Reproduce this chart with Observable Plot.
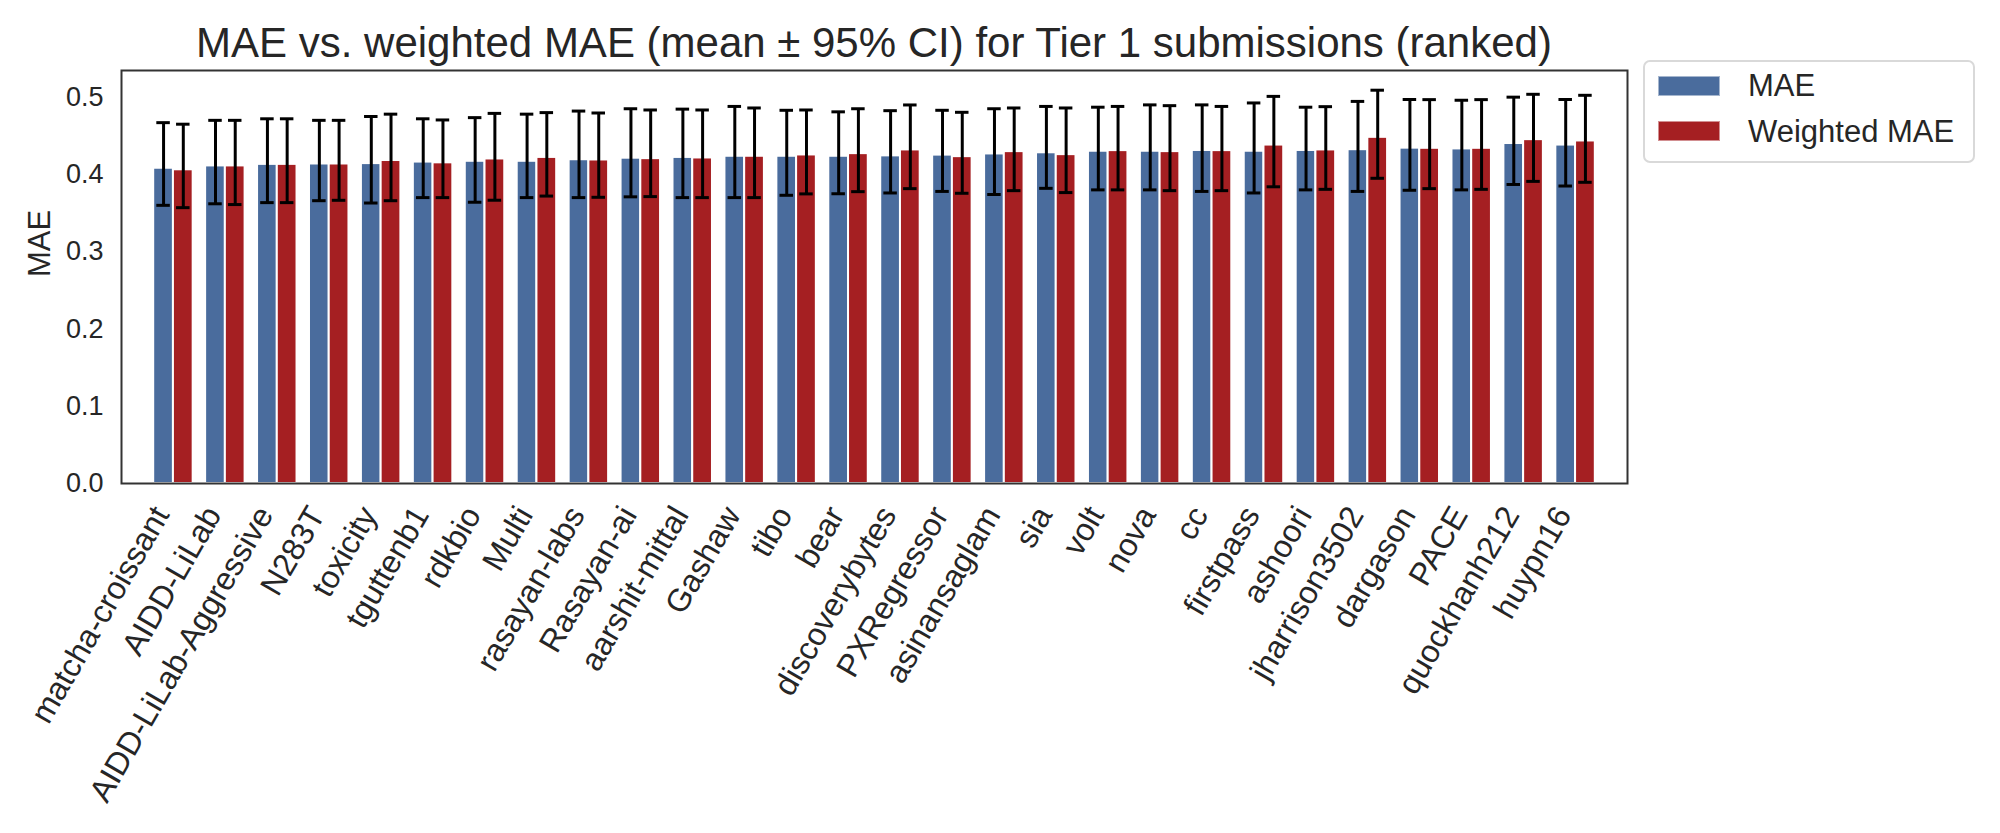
<!DOCTYPE html>
<html>
<head>
<meta charset="utf-8">
<script src="https://cdn.jsdelivr.net/npm/d3@7"></script>
<script src="https://cdn.jsdelivr.net/npm/@observablehq/plot@0.6"></script>
<style>
  html, body { margin: 0; padding: 0; background: #fff; }
  #wrap { position: relative; width: 2000px; height: 833px; overflow: hidden; font-family: "Liberation Sans", Arial, sans-serif; color: #262626; }
  #title { position: absolute; left: 121px; top: 22px; width: 1506px; text-align: center; font-size: 42px; line-height: 42px; white-space: nowrap; }
  #chart { position: absolute; left: 0; top: 60px; }
  #legend { position: absolute; left: 1643px; top: 60px; width: 332px; height: 103px; box-sizing: border-box; border: 2px solid #d9d9d9; border-radius: 7px; background: #fff; }
  .sw { position: absolute; left: 13px; width: 62px; height: 20px; box-sizing: border-box; border: 1px solid rgba(255,255,255,0.5); }
  .lt { position: absolute; left: 103px; font-size: 31px; line-height: 31px; white-space: nowrap; }
</style>
</head>
<body>
<div id="wrap">
  <div id="title">MAE vs. weighted MAE (mean ± 95% CI) for Tier 1 submissions (ranked)</div>
  <div id="chart"></div>
  <div id="legend"></div>
</div>
<script>
const names = ["matcha-croissant","AIDD-LiLab","AIDD-LiLab-Aggressive","N283T","toxicity","tguttenb1","rdkbio","Multi","rasayan-labs","Rasayan-ai","aarshit-mittal","Gashaw","tibo","bear","discoverybytes","PXRegressor","asinansaglam","sia","volt","nova","cc","firstpass","ashoori","jharrison3502","dargason","PACE","quockhanh212","huypn16"];

const mae   = [0.408,0.411,0.413,0.4135,0.414,0.416,0.417,0.417,0.419,0.421,0.422,0.4235,0.4235,0.4235,0.424,0.425,0.4265,0.428,0.430,0.430,0.431,0.430,0.431,0.432,0.434,0.433,0.440,0.438];
const maeLo = [0.360,0.362,0.3635,0.366,0.363,0.370,0.364,0.370,0.370,0.371,0.370,0.370,0.373,0.375,0.376,0.378,0.374,0.382,0.380,0.380,0.378,0.376,0.380,0.378,0.3795,0.380,0.387,0.385];
const maeHi = [0.467,0.470,0.472,0.470,0.475,0.472,0.4735,0.478,0.482,0.485,0.4845,0.488,0.483,0.481,0.4825,0.483,0.485,0.488,0.487,0.490,0.490,0.4925,0.487,0.4945,0.497,0.496,0.500,0.497];

const wmae   = [0.406,0.411,0.413,0.4135,0.418,0.415,0.420,0.422,0.4187,0.4204,0.4213,0.4235,0.4252,0.4269,0.4317,0.423,0.4295,0.4256,0.4308,0.4295,0.4308,0.438,0.4317,0.448,0.4338,0.4338,0.445,0.4433];
const wmaeLo = [0.357,0.361,0.3635,0.3665,0.366,0.370,0.3666,0.372,0.3704,0.3713,0.370,0.370,0.3748,0.3777,0.3816,0.3756,0.379,0.3765,0.380,0.379,0.379,0.384,0.3807,0.395,0.3816,0.3807,0.391,0.3898];
const wmaeHi = [0.465,0.470,0.472,0.470,0.478,0.4705,0.479,0.480,0.4795,0.4834,0.4834,0.486,0.4834,0.485,0.4899,0.4804,0.486,0.486,0.488,0.489,0.488,0.501,0.4877,0.509,0.4968,0.4968,0.5037,0.5024];

const series = ["MAE", "Weighted MAE"];
const colors = ["#4a6c9d", "#a51f22"];
const yTicks = [0, 0.1, 0.2, 0.3, 0.4, 0.5];

// bar geometry (in category units, like matplotlib's width)
const barWidth = 0.38;
const capHalf = 0.13;

const rows = names.flatMap((name, i) => [
  {name, i, series: series[0], value: mae[i], lo: maeLo[i], hi: maeHi[i], side: -1},
  {name, i, series: series[1], value: wmae[i], lo: wmaeLo[i], hi: wmaeHi[i], side: 1}
]);
const center = d => d.i + d.side * barWidth / 2;

const chart = Plot.plot({
  width: 2000,
  height: 773,
  marginTop: 10,
  marginBottom: 350,
  marginLeft: 121,
  marginRight: 373,
  style: {fontFamily: "'Liberation Sans', Arial, sans-serif", color: "#262626", background: "transparent"},
  x: {domain: [-1, names.length], axis: null},
  y: {domain: [0, 0.5345], axis: null},
  color: {domain: series, range: colors},
  marks: [
    Plot.rectY(rows, {
      x1: d => d.side < 0 ? d.i - barWidth : d.i,
      x2: d => d.side < 0 ? d.i : d.i + barWidth,
      y1: 0, y2: "value",
      fill: "series",
      stroke: "white", strokeWidth: 2
    }),
    Plot.ruleX(rows, {x: center, y1: "lo", y2: "hi", stroke: "black", strokeWidth: 3}),
    Plot.ruleY(rows, {y: "lo", x1: d => center(d) - capHalf, x2: d => center(d) + capHalf, stroke: "black", strokeWidth: 3}),
    Plot.ruleY(rows, {y: "hi", x1: d => center(d) - capHalf, x2: d => center(d) + capHalf, stroke: "black", strokeWidth: 3}),
    Plot.axisY({ticks: yTicks, tickFormat: d3.format(".1f"), tickSize: 0, tickPadding: 18, fontSize: 27, label: null}),
    Plot.text(["MAE"], {frameAnchor: "left", rotate: -90, dx: -81, fontSize: 31, fill: "#262626"}),
    Plot.axisX({
      ticks: d3.range(names.length),
      tickFormat: i => names[i],
      tickRotate: -60, tickSize: 0, tickPadding: 26, dx: -12,
      fontSize: 32, label: null
    }),
    Plot.frame({stroke: "#333333", strokeWidth: 2})
  ]
});
document.getElementById("chart").appendChild(chart);

const legend = document.getElementById("legend");
series.forEach((s, k) => {
  const sw = document.createElement("div");
  sw.className = "sw";
  sw.style.top = (13.7 + 45.3 * k) + "px";
  sw.style.background = colors[k];
  legend.appendChild(sw);
  const t = document.createElement("div");
  t.className = "lt";
  t.style.top = (8.4 + 45.3 * k) + "px";
  t.textContent = s;
  legend.appendChild(t);
});
</script>
</body>
</html>
